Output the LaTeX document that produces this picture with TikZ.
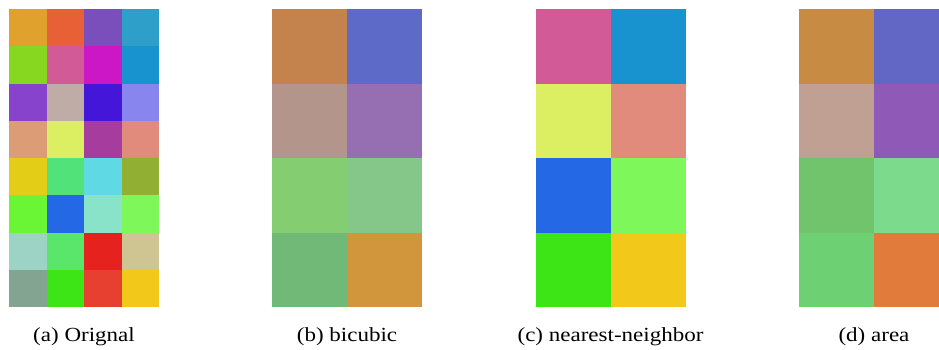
\documentclass[tikz,border=0pt]{standalone}
\usepackage{fontspec}
\setmainfont{Liberation Serif}[FakeStretch=1.15]
\usepackage{xcolor}
\usepackage{tikz}

\begin{document}
\begin{tikzpicture}[
    x=1pt, y=-1pt,
    caption/.style={anchor=base, inner sep=0pt, font=\fontsize{20}{24}\selectfont}
]
\useasboundingbox (0,0) rectangle (939,349);

% original 4x8 image, row by row
\foreach \c [count=\i from 0] in {
    E0A22C,E86035,7B4FBB,2E9FC8,
    87D61F,D25A96,CC17C6,1993CF,
    8743CB,C0ACA7,4416D9,8985EF,
    DC9D76,DCEF62,A63C9E,E08B7B,
    E4CD16,52E27A,5FD9E3,91B033,
    6AF634,2468E6,88E3C9,7DF75A,
    9DD3C4,5AE66A,E5221E,CEC592,
    82A491,3DE516,E74030,F2C81B}{
  \pgfmathtruncatemacro{\col}{mod(\i,4)}
  \pgfmathtruncatemacro{\row}{div(\i,4)}
  \definecolor{cCell}{HTML}{\c}
  \fill[cCell] (9+\col*37.5, 9+\row*37.25) rectangle ++(37.5,37.25);
}

% resized 2x4 images
\foreach \x/\cells in {
    272/{C4824D,5E6AC8,B4958C,966FB3,84CD71,85C788,71B977,D1963C},
    536/{D25A96,1993CF,DCEF62,E08B7B,2468E6,7DF75A,3DE516,F2C81B},
    799/{C78B44,6267C6,BFA093,8F5AB7,71C46C,7CDA8D,6DD073,E17B3B}}{
  \foreach \c [count=\i from 0] in \cells {
    \pgfmathtruncatemacro{\col}{mod(\i,2)}
    \pgfmathtruncatemacro{\row}{div(\i,2)}
    \definecolor{cCell}{HTML}{\c}
    \fill[cCell] (\x+\col*75, 9+\row*74.5) rectangle ++(75,74.5);
  }
}

\node[caption] (orig) at (84,341) {(a) Orignal};
\node[caption] (bicubic) at (347,341) {(b) bicubic};
\node[caption] (nearest) at (610.5,341) {(c) nearest-neighbor};
\node[caption] (area) at (874,341) {(d) area};
\end{tikzpicture}
\end{document}
